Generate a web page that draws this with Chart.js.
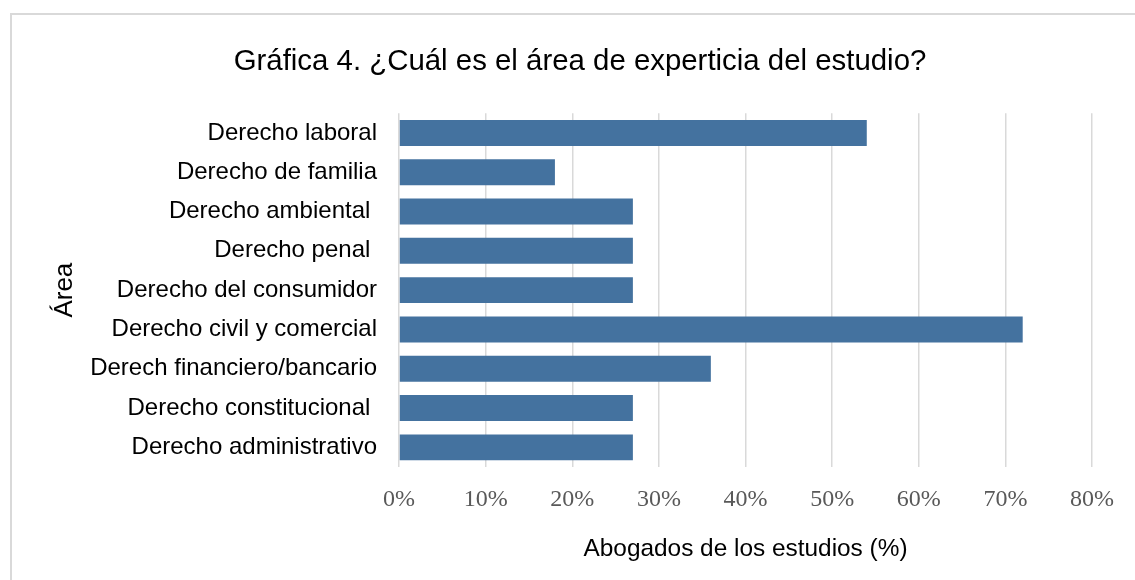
<!DOCTYPE html>
<html>
<head>
<meta charset="utf-8">
<script src="https://cdn.jsdelivr.net/npm/chart.js@4.4.1/dist/chart.umd.min.js"></script>
<style>
  html, body { margin: 0; padding: 0; background: #fff; }
  #wrap { position: relative; width: 1135px; height: 580px; overflow: hidden; }
  #frame {
    position: absolute; left: 10px; top: 13px; width: 1200px; height: 700px;
    border-left: 2px solid #d9d9d9; border-top: 2px solid #d9d9d9;
  }
  canvas { position: absolute; left: 0; top: 0; }
</style>
</head>
<body>
<div id="wrap">
  <div id="frame"></div>
  <canvas id="chart" width="1135" height="580"></canvas>
</div>
<script>
// ---------- data ----------
const categories = [
  "Derecho laboral",
  "Derecho de familia",
  "Derecho ambiental ",
  "Derecho penal ",
  "Derecho del consumidor",
  "Derecho civil y comercial",
  "Derech financiero/bancario",
  "Derecho constitucional ",
  "Derecho administrativo",
];
const percentValues = [54, 18, 27, 27, 27, 72, 36, 27, 27];
const tickMax = 80;
const tickStep = 10;

const titleText = "Gráfica 4. ¿Cuál es el área de experticia del estudio?";
const xTitleText = "Abogados de los estudios (%)";
const yTitleText = "Área";

// ---------- chart ----------
const sans = "'Liberation Sans', Arial, sans-serif";
const serif = "'Liberation Serif', 'Times New Roman', serif";

Chart.defaults.font.family = sans;
Chart.defaults.color = "#000";

new Chart(document.getElementById("chart"), {
  type: "bar",
  data: {
    labels: categories,
    datasets: [
      {
        data: percentValues,
        backgroundColor: "#44729f",
        borderWidth: 0,
        categoryPercentage: 1,
        barPercentage: 0.66,
      },
    ],
  },
  options: {
    indexAxis: "y",
    responsive: false,
    animation: false,
    layout: { padding: { left: 68, right: 43, top: 0, bottom: 0 } },
    plugins: {
      legend: { display: false },
      tooltip: { enabled: false },
      title: {
        display: true,
        text: titleText,
        color: "#000",
        font: { family: sans, size: 29.4, weight: "normal", lineHeight: 1.2 },
        padding: { top: 44, bottom: 34 },
      },
    },
    scales: {
      x: {
        min: 0,
        max: tickMax,
        ticks: {
          stepSize: tickStep,
          color: "#595959",
          padding: 18,
          font: { family: serif, size: 24 },
          callback: (v) => v + "%",
        },
        grid: { color: "#d9d9d9", lineWidth: 1.5, drawTicks: false },
        border: { display: false },
        title: {
          display: true,
          text: xTitleText,
          color: "#000",
          font: { family: sans, size: 24.4, lineHeight: 1.2 },
          padding: { top: 0, bottom: 16 },
        },
        afterFit: (scale) => { scale.height = 113; },
      },
      y: {
        ticks: {
          color: "#000",
          padding: 22,
          font: { family: sans, size: 24 },
        },
        grid: { display: false, drawTicks: false },
        border: { display: false },
        title: {
          display: true,
          text: yTitleText,
          color: "#000",
          font: { family: sans, size: 26, lineHeight: 1.2 },
          padding: { top: -19, bottom: 0 },
        },
        afterFit: (scale) => { scale.width = 331; },
      },
    },
  },
});
</script>
</body>
</html>
